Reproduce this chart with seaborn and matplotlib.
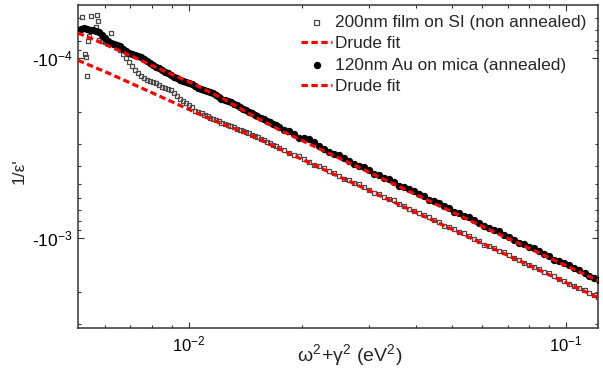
import numpy as np
import matplotlib
matplotlib.use('Agg')
import matplotlib.pyplot as plt
import matplotlib.ticker as mtick
import seaborn as sns

# omega^2 + gamma^2 in units of 1e-3 eV^2, 1/eps' magnitudes in units of 1e-4 (values are negative)
au_x = [5.08, 5.17, 5.27, 5.36, 5.46, 5.56, 5.67, 5.77, 5.88, 5.99, 6.1, 6.21, 6.33, 6.44, 6.56, 6.68,
        6.81, 6.93, 7.06, 7.19, 7.32, 7.46, 7.6, 7.74, 7.88, 8.03, 8.17, 8.33, 8.48, 8.64, 8.8, 8.96,
        9.12, 9.29, 9.47, 9.64, 9.82, 10, 10.2, 10.4, 10.6, 10.8, 11, 11.2, 11.4, 11.6, 11.8, 12,
        12.2, 12.5, 12.7, 12.9, 13.2, 13.4, 13.7, 13.9, 14.2, 14.4,
        14.7, 15, 15.2, 15.5, 15.8, 16.1, 16.4, 16.7, 17, 17.3, 17.9, 18.4, 19, 19.6, 20.2, 20.8,
        21.5, 22.1, 22.8, 23.5, 24.2, 25, 25.8, 26.6, 27.4, 28.2, 29.1, 30, 31, 31.9, 32.9, 33.9,
        35, 36.1, 37.2, 38.3, 39.5, 40.7, 42, 43.3, 44.7, 46, 47.5, 48.9, 50.5, 52, 53.6, 55.3, 57,
        58.8, 60.6, 62.5, 64.4, 66.4, 68.5, 70.6, 72.8, 75, 77.4, 79.8, 82.2, 84.8, 87.4, 90.1, 92.9,
        95.8, 98.8, 102, 105, 108, 112, 115, 119, 122]
au_y = [0.708, 0.69, 0.681, 0.69, 0.699, 0.699, 0.708, 0.717, 0.745, 0.774, 0.805, 0.825, 0.836, 0.847,
        0.858, 0.891, 0.914, 0.938, 0.95, 0.962, 0.975, 0.987, 1.01, 1.04, 1.07, 1.09, 1.12, 1.14, 1.17,
        1.2, 1.21, 1.24, 1.28, 1.29, 1.33, 1.34, 1.36, 1.38, 1.39, 1.43, 1.47, 1.49, 1.51, 1.53, 1.54,
        1.56, 1.61, 1.65, 1.69, 1.71, 1.73, 1.76, 1.8, 1.82, 1.87, 1.92, 1.94, 2, 2.02, 2.07, 2.1, 2.15,
        2.18, 2.24, 2.27, 2.33, 2.36, 2.42, 2.51, 2.54, 2.64, 2.78, 2.78, 2.82, 2.93, 3.08, 3.2, 3.33,
        3.41, 3.46, 3.59, 3.73, 3.88, 3.98, 4.03, 4.19, 4.41, 4.47, 4.64, 4.7, 4.89, 5.14, 5.21, 5.34,
        5.48, 5.7, 5.84, 6.15, 6.23, 6.39, 6.64, 6.81, 7.17, 7.26, 7.55, 7.64, 7.94, 8.25, 8.58, 8.8,
        9.03, 9.14, 9.62, 9.87, 10.3, 10.7, 10.8, 11.2, 11.4, 11.8, 12.3, 12.6, 13.3, 13.4, 13.8, 14.1,
        14.7, 15.1, 15.6, 16.3, 16.7, 17.1]

film_x = [5.2, 5.5, 5.7, 5.74, 5.67, 5.43, 5.4, 5.3, 5.33, 5.36, 6.21, 5.91,
          5.77, 5.88, 5.99, 6.1, 6.21, 6.33, 6.44, 6.56, 6.68,
          6.81, 6.93, 7.06, 7.19, 7.32, 7.46, 7.6, 7.74, 7.88, 8.03, 8.17, 8.33, 8.48, 8.64, 8.8, 8.96,
          9.12, 9.29, 9.47, 9.64, 9.82, 10, 10.2, 10.4, 10.6, 10.8, 11, 11.2, 11.4, 11.6, 11.8, 12,
          12.2, 12.5, 12.7, 12.9, 13.2, 13.4, 13.7, 13.9, 14.2, 14.4,
          14.7, 15, 15.2, 15.5, 15.8, 16.1, 16.4, 16.7, 17, 17.3, 17.9, 18.4, 19, 19.6, 20.2, 20.8,
          21.5, 22.1, 22.8, 23.5, 24.2, 25, 25.8, 26.6, 27.4, 28.2, 29.1, 30, 31, 31.9, 32.9, 33.9,
          35, 36.1, 37.2, 38.3, 39.5, 40.7, 42, 43.3, 44.7, 46, 47.5, 48.9, 50.5, 52, 53.6, 55.3, 57,
          58.8, 60.6, 62.5, 64.4, 66.4, 68.5, 70.6, 72.8, 75, 77.4, 79.8, 82.2, 84.8, 87.4, 90.1, 92.9,
          95.8, 98.8, 102, 105, 108, 112, 115, 119, 122]
film_y = [0.592, 0.584, 0.577, 0.623, 0.673, 0.755, 0.805, 0.95, 0.987, 1.26, 0.726, 0.764,
          0.794, 0.805, 0.815, 0.825, 0.836, 0.847, 0.869, 0.903, 0.95, 1, 1.05, 1.11, 1.17, 1.21, 1.26,
          1.29, 1.33, 1.34, 1.36, 1.38, 1.41, 1.45, 1.47, 1.49, 1.51, 1.56, 1.63, 1.69, 1.73, 1.78, 1.82,
          1.87, 1.97, 2, 2.02, 2.07, 2.1, 2.15, 2.18, 2.21, 2.24, 2.3, 2.33, 2.36, 2.39, 2.42, 2.48, 2.51,
          2.54, 2.58, 2.61, 2.68, 2.71, 2.75, 2.82, 2.85, 2.93, 2.97, 3.04, 3.08, 3.16, 3.24, 3.37, 3.46,
          3.5, 3.64, 3.78, 3.93, 3.98, 4.08, 4.24, 4.35, 4.52, 4.7, 4.76, 4.95, 5.01, 5.21, 5.41, 5.62,
          5.7, 5.92, 6.07, 6.15, 6.47, 6.64, 6.9, 7.08, 7.26, 7.45, 7.64, 7.94, 8.15, 8.58, 8.69, 8.91,
          9.26, 9.38, 9.75, 10.1, 10.4, 10.9, 11.1, 11.4, 11.8, 12, 12.4, 12.9, 13.3, 13.8, 14.1, 14.5,
          14.9, 15.4, 15.6, 16.3, 16.9, 17.3, 18, 18.5, 19, 19.4, 20.2, 20.7, 21.3]

fit_au_x = [5.08, 5.63, 6.76, 8.28, 10.2, 12.5, 15, 17.4, 34.1, 62.9, 122]
fit_au_y = [0.726, 0.794, 0.938, 1.14, 1.38, 1.71, 2.13, 2.51, 4.89, 9.03, 17.3]
fit_film_x = [5.08, 6.1, 7.5, 9.18, 11.2, 15, 17.4, 33.1, 61, 122]
fit_film_y = [1.03, 1.21, 1.47, 1.78, 2.15, 2.75, 3.2, 5.99, 10.9, 21.5]

labels = ['200nm film on SI (non annealed)', 'Drude fit', '120nm Au on mica (annealed)', 'Drude fit']

# 1/eps' is negative: plot its magnitude on an inverted log axis, label ticks as -10^n
def mag(v):
    return np.array(v) * 1e-4

def energy(v):
    return np.array(v) * 1e-3

sns.set_style('ticks')
plt.rcParams['font.family'] = ['Liberation Sans', 'DejaVu Sans']
plt.rcParams['mathtext.fontset'] = 'custom'
plt.rcParams['mathtext.rm'] = 'Liberation Sans'
plt.rcParams['mathtext.it'] = 'Liberation Sans:italic'
plt.rcParams['mathtext.bf'] = 'Liberation Sans:bold'

fig = plt.figure(figsize=(6.03, 3.75), dpi=100)
ax = fig.add_axes([78 / 603, 47 / 375, 520 / 603, 323 / 375])
ax.set_xscale('log')
ax.set_yscale('log')

red_dash = dict(color='#ff0000', lw=2.3, linestyle=(0, (2, 1.1)), zorder=4)
sns.scatterplot(x=energy(film_x), y=mag(film_y), ax=ax, marker='s', color='#4a4a4a', edgecolor='#4a4a4a',
                facecolor='none', s=9, linewidth=0.9, label=labels[0], zorder=2)
sns.lineplot(x=energy(fit_film_x), y=mag(fit_film_y), ax=ax, label=labels[1], **red_dash)
sns.scatterplot(x=energy(au_x), y=mag(au_y), ax=ax, marker='o', color='black', edgecolor='black',
                s=28, linewidth=0, label=labels[2], zorder=3)
sns.lineplot(x=energy(fit_au_x), y=mag(fit_au_y), ax=ax, label=labels[3], **red_dash)

ax.set_xlim(10 ** -2.294, 10 ** -0.915)
ax.set_ylim(10 ** -2.5, 10 ** -4.2944)

ax.yaxis.set_major_formatter(mtick.FuncFormatter(lambda v, p: r'-$10^{%d}$' % round(np.log10(v))))
ax.yaxis.set_minor_formatter(mtick.NullFormatter())
ax.xaxis.set_minor_formatter(mtick.NullFormatter())
ax.tick_params(which='both', direction='in', top=True, right=True, colors='#333333', labelcolor='black')
ax.tick_params(axis='y', labelsize=12.5, pad=4)
ax.tick_params(axis='x', labelsize=12, pad=5)
ax.tick_params(which='major', length=4, width=0.8)
ax.tick_params(which='minor', length=2.5, width=0.8)
for s in ax.spines.values():
    s.set_linewidth(1.1)
    s.set_color('#333333')

ax.set_xlabel(r'$\mathrm{\omega^2\!+\!\gamma^2\ (eV^2)}$', fontsize=14)
ax.xaxis.set_label_coords(0.523, -0.045)
ax.set_ylabel("1/ε'", fontsize=12.5)
ax.yaxis.set_label_coords(-0.098, 0.486)

ax.legend(loc='upper right', bbox_to_anchor=(586 / 603, 1 - 15 / 375), bbox_transform=fig.transFigure,
          frameon=False, fontsize=12.4, handlelength=1.8, handletextpad=0.15, labelspacing=0.36,
          borderpad=0, borderaxespad=0)

fig.savefig('out.png', dpi=100)
